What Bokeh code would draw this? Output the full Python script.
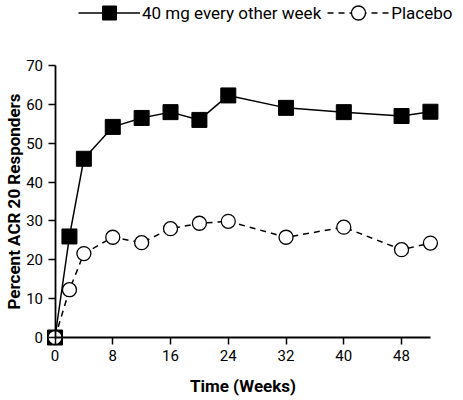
from bokeh.embed import file_html
from bokeh.models import FixedTicker, Legend, LegendItem, Range1d
from bokeh.plotting import figure
from bokeh.resources import INLINE

# weeks on study and percent ACR 20 responders
weeks = [0, 2, 4, 8, 12, 16, 20, 24, 32, 40, 48, 52]
humira_40mg = [0, 26, 46, 54.2, 56.5, 58, 56, 62.3, 59.1, 58, 57, 58.1]
placebo = [0, 12.3, 21.6, 25.8, 24.4, 28, 29.4, 29.9, 25.8, 28.4, 22.6, 24.3]

x_ticks = [0, 8, 16, 24, 32, 40, 48]
y_ticks = [0, 10, 20, 30, 40, 50, 60, 70]

FONT = "Roboto"


def plot():
    # axes sit at fixed data positions, so the frame fills the figure
    p = figure(width=463, height=400,
               output_backend="svg",
               toolbar_location=None,
               x_range=Range1d(-7.55, 56.58),
               y_range=Range1d(-16.21, 86.73),
               min_border_left=0,
               min_border_right=0,
               min_border_top=0,
               min_border_bottom=0)
    p.outline_line_color = None
    p.grid.visible = False

    line_a = p.line(weeks, humira_40mg,
                    line_color="black",
                    line_width=1.5)
    dots_a = p.scatter(weeks, humira_40mg,
                       marker="square",
                       size=15,
                       fill_color="black",
                       line_color="black")
    line_b = p.line(weeks, placebo,
                    line_color="black",
                    line_width=1.5,
                    line_dash="6 5")
    dots_b = p.scatter(weeks, placebo,
                       marker="circle",
                       size=14,
                       fill_color="white",
                       line_color="black",
                       line_width=1.3)

    for axis in (p.xaxis, p.yaxis):
        axis.fixed_location = 0
        axis.axis_line_width = 1.8
        axis.major_tick_line_width = 1.5
        axis.major_tick_out = 7
        axis.major_tick_in = 0
        axis.minor_tick_line_color = None
        axis.major_label_text_font = FONT
        axis.major_label_text_font_size = "15px"
        axis.major_label_text_color = "black"
        axis.axis_label_text_font = FONT
        axis.axis_label_text_font_style = "bold"
        axis.axis_label_text_color = "black"

    p.xaxis.bounds = (0, 52)
    p.xaxis.ticker = FixedTicker(ticks=x_ticks)
    p.xaxis.axis_label = "Time (Weeks)"
    p.xaxis.axis_label_text_font_size = "17px"
    p.xaxis.axis_label_standoff = 12
    p.xaxis.major_label_standoff = 5

    p.yaxis.bounds = (0, 70)
    p.yaxis.ticker = FixedTicker(ticks=y_ticks)
    p.yaxis.axis_label = "Percent ACR 20 Responders"
    p.yaxis.axis_label_text_font_size = "17px"
    p.yaxis.axis_label_standoff = 0
    p.yaxis.major_label_standoff = 5

    legend = Legend(items=[
        LegendItem(label="40 mg every other week", renderers=[line_a, dots_a]),
        LegendItem(label="Placebo", renderers=[line_b, dots_b]),
    ],
        orientation="horizontal",
        location=(78, 370),
        glyph_width=62,
        glyph_height=35,
        label_height=35,
        label_standoff=2,
        spacing=6,
        padding=0,
        margin=0,
        border_line_color=None,
        background_fill_alpha=0,
        label_text_font=FONT,
        label_text_font_size="17px",
        label_text_color="black")
    p.add_layout(legend, "center")

    return p


p = plot()
open("out.html", "w").write(file_html(p, INLINE))
